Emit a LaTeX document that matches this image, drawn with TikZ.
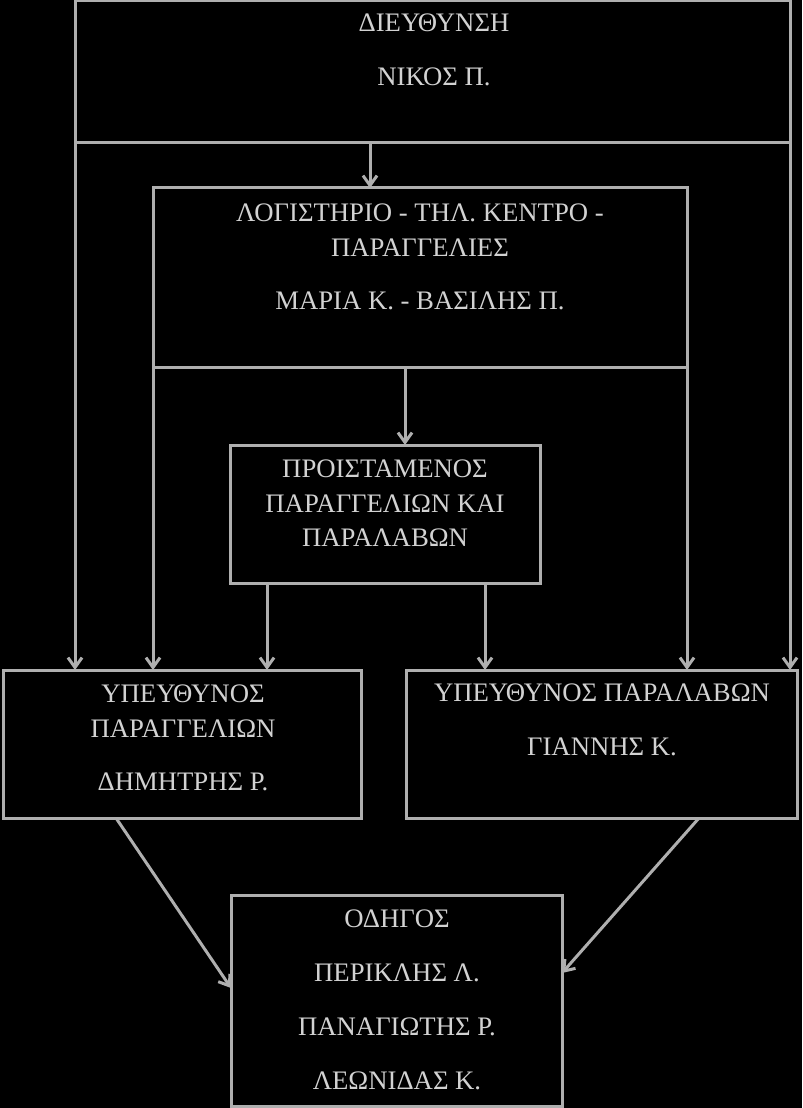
\documentclass[tikz,border=0pt]{standalone}
\usepackage{fontspec}
\setmainfont{Liberation Serif}
\usetikzlibrary{arrows.meta}
\newdimen\pxl \pxl=0.025cm
\definecolor{linegray}{RGB}{175,175,175}
\definecolor{textgray}{RGB}{210,210,210}

\begin{document}
\begin{tikzpicture}[x=0.025cm,y=-0.025cm,
  box/.style={draw=linegray,line width=3\pxl,rectangle,inner sep=0pt,outer sep=0pt},
  lbl/.style={font=\fontsize{19}{24.2}\selectfont,text=textgray,align=center,anchor=north,inner sep=0pt},
  arr/.style={draw=linegray,line width=3\pxl,-{Straight Barb[length=7pt,width=10pt]}}]
\fill[black] (0,0) rectangle (802,1108);
\useasboundingbox (0,0) rectangle (802,1108);

\node[box,minimum width=715\pxl,minimum height=142\pxl] (dir) at (432.5,72) {};
\node[box,minimum width=534\pxl,minimum height=180\pxl] (log) at (420,278) {};
\node[box,minimum width=310\pxl,minimum height=138\pxl] (prs) at (385,514) {};
\node[box,minimum width=358\pxl,minimum height=148\pxl] (ord) at (182,744) {};
\node[box,minimum width=391\pxl,minimum height=148\pxl] (rcv) at (601.5,744) {};
\node[box,minimum width=331\pxl,minimum height=211\pxl] (drv) at (396.5,1000.5) {};

\node[lbl] (dirtxt) at (434,14) {ΔΙΕΥΘΥΝΣΗ\\[14pt]ΝΙΚΟΣ Π.};
\node[lbl] (logtxt) at (420,204) {ΛΟΓΙΣΤΗΡΙΟ - ΤΗΛ. ΚΕΝΤΡΟ -\\ΠΑΡΑΓΓΕΛΙΕΣ\\[14pt]ΜΑΡΙΑ Κ. - ΒΑΣΙΛΗΣ Π.};
\node[lbl] (prstxt) at (385,460) {ΠΡΟΙΣΤΑΜΕΝΟΣ\\ΠΑΡΑΓΓΕΛΙΩΝ ΚΑΙ\\ΠΑΡΑΛΑΒΩΝ};
\node[lbl] (ordtxt) at (183,685) {ΥΠΕΥΘΥΝΟΣ\\ΠΑΡΑΓΓΕΛΙΩΝ\\[14pt]ΔΗΜΗΤΡΗΣ Ρ.};
\node[lbl] (rcvtxt) at (602,684) {ΥΠΕΥΘΥΝΟΣ ΠΑΡΑΛΑΒΩΝ\\[14pt]ΓΙΑΝΝΗΣ Κ.};
\node[lbl] (drvtxt) at (397,910) {ΟΔΗΓΟΣ\\[14pt]ΠΕΡΙΚΛΗΣ Λ.\\[14pt]ΠΑΝΑΓΙΩΤΗΣ Ρ.\\[14pt]ΛΕΩΝΙΔΑΣ Κ.};

\coordinate (dirout) at ([xshift=-62.5\pxl]dir.south);
\coordinate (logout) at ([xshift=-15\pxl]log.south);
\coordinate (prsleft) at ([xshift=-118\pxl]prs.south);
\coordinate (prsright) at ([xshift=100\pxl]prs.south);
\coordinate (ordout) at ([xshift=-66\pxl]ord.south);
\coordinate (rcvout) at ([xshift=97.5\pxl]rcv.south);

\draw[arr] (dirout) -- (dirout |- log.north);
\draw[arr] (logout) -- (logout |- prs.north);
\draw[arr] (dir.south west) -- (dir.south west |- ord.north);
\draw[arr] (dir.south east) -- (dir.south east |- rcv.north);
\draw[arr] (log.south west) -- (log.south west |- ord.north);
\draw[arr] (log.south east) -- (log.south east |- rcv.north);
\draw[arr] (prsleft) -- (prsleft |- ord.north);
\draw[arr] (prsright) -- (prsright |- rcv.north);
\draw[arr] (ordout) -- ([yshift=12.5\pxl]drv.west);
\draw[arr] (rcvout) -- ([yshift=27.5\pxl]drv.east);

\end{tikzpicture}
\end{document}
